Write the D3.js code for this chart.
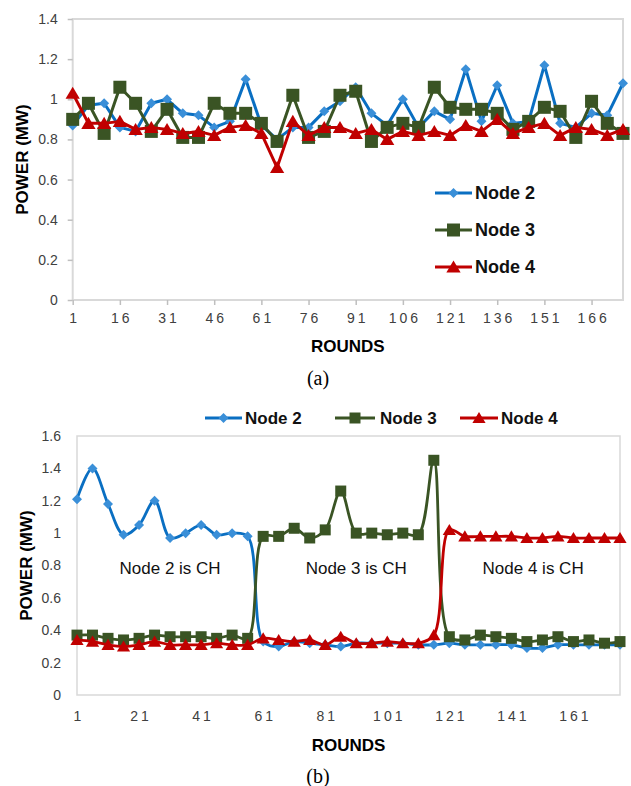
<!DOCTYPE html>
<html>
<head>
<meta charset="utf-8">
<script src="https://cdn.jsdelivr.net/npm/d3@7"></script>
<style>
  body { margin: 0; background: #fff; }
  svg { display: block; font-family: "Liberation Sans", Arial, sans-serif; }
</style>
</head>
<body>
<svg id="chart" width="631" height="786"></svg>
<script>
// rounds (x categories, every 5th round)
const rounds = [1, 6, 11, 16, 21, 26, 31, 36, 41, 46, 51, 56, 61, 66, 71, 76, 81, 86,
  91, 96, 101, 106, 111, 116, 121, 126, 131, 136, 141, 146, 151, 156, 161, 166, 171, 176];

// (a) power per round
const topNode2 = [0.87, 0.97, 0.98, 0.86, 0.84, 0.98, 1.0, 0.93, 0.92, 0.86, 0.89, 1.10,
  0.87, 0.80, 0.86, 0.86, 0.94, 0.99, 1.06, 0.93, 0.87, 1.0, 0.86, 0.94,
  0.90, 1.15, 0.89, 1.07, 0.88, 0.89, 1.17, 0.88, 0.86, 0.93, 0.92, 1.08];
const topNode3 = [0.90, 0.98, 0.83, 1.06, 0.98, 0.84, 0.95, 0.81, 0.81, 0.98, 0.93, 0.93,
  0.88, 0.79, 1.02, 0.81, 0.84, 1.02, 1.04, 0.79, 0.86, 0.88, 0.86, 1.06,
  0.96, 0.95, 0.95, 0.93, 0.85, 0.89, 0.96, 0.94, 0.81, 0.99, 0.88, 0.83];
const topNode4 = [1.03, 0.88, 0.88, 0.89, 0.85, 0.86, 0.85, 0.83, 0.84, 0.82, 0.86, 0.87,
  0.83, 0.66, 0.89, 0.82, 0.86, 0.86, 0.83, 0.85, 0.80, 0.84, 0.82, 0.84,
  0.82, 0.87, 0.84, 0.90, 0.83, 0.86, 0.88, 0.82, 0.86, 0.85, 0.82, 0.85];

// (b) power per round, cluster head changes
const botNode2 = [1.21, 1.40, 1.18, 0.99, 1.05, 1.20, 0.97, 1.00, 1.05, 0.99, 1.00, 0.98,
  0.33, 0.30, 0.33, 0.32, 0.31, 0.30, 0.32, 0.32, 0.32, 0.32, 0.31, 0.31,
  0.32, 0.31, 0.31, 0.31, 0.31, 0.29, 0.29, 0.31, 0.31, 0.31, 0.31, 0.31];
const botNode3 = [0.37, 0.37, 0.35, 0.34, 0.35, 0.37, 0.36, 0.36, 0.36, 0.35, 0.37, 0.35,
  0.98, 0.98, 1.03, 0.97, 1.02, 1.26, 1.00, 1.00, 0.99, 1.00, 0.99, 1.45,
  0.36, 0.34, 0.37, 0.36, 0.35, 0.33, 0.34, 0.36, 0.33, 0.34, 0.32, 0.33];
const botNode4 = [0.34, 0.33, 0.31, 0.30, 0.31, 0.33, 0.31, 0.31, 0.31, 0.32, 0.31, 0.31,
  0.35, 0.34, 0.33, 0.34, 0.31, 0.36, 0.32, 0.32, 0.33, 0.32, 0.32, 0.37,
  1.02, 0.98, 0.98, 0.98, 0.98, 0.97, 0.97, 0.98, 0.97, 0.97, 0.97, 0.97];

const seriesNames = ['Node 2', 'Node 3', 'Node 4'];
const xTicksTop = [1, 16, 31, 46, 61, 76, 91, 106, 121, 136, 151, 166];
const xTicksBot = [1, 21, 41, 61, 81, 101, 121, 141, 161];
const yTicksTop = [0, 0.2, 0.4, 0.6, 0.8, 1, 1.2, 1.4];
const yTicksBot = [0, 0.2, 0.4, 0.6, 0.8, 1, 1.2, 1.4, 1.6];
const chLabels = ['Node 2 is CH', 'Node 3 is CH', 'Node 4 is CH'];
const chRounds = [31, 91, 148];

const colors = { line: ['#0A6FC2', '#3A5424', '#C00000'], mark: ['#3A8FD8', '#3A5424', '#C00000'] };
const shapes = ['diamond', 'square', 'triangle'];

const svg = d3.select('#chart');

function markerPath(shape, s) { // s = half size
  if (shape === 'diamond') return `M0,${-s}L${s},0L0,${s}L${-s},0Z`;
  if (shape === 'square') return `M${-s},${-s}H${s}V${s}H${-s}Z`;
  return `M0,${-s}L${s * 1.1},${s * 0.85}L${-s * 1.1},${s * 0.85}Z`;
}
const markSize = { top: [5, 6.5, 6.5], bot: [5, 5.5, 6] };

function drawChart(opt) {
  const x = d3.scaleLinear().domain([1, 176]).range([opt.left, opt.right]);
  const y = d3.scaleLinear().domain([0, opt.ymax]).range([opt.bottom, opt.top]);
  const g = svg.append('g');

  g.append('rect')
    .attr('x', opt.left).attr('y', opt.top)
    .attr('width', opt.right - opt.left).attr('height', opt.bottom - opt.top)
    .attr('fill', 'none').attr('stroke', '#d9d9d9').attr('stroke-width', opt.borderW);

  const yAxis = d3.axisLeft(y).tickValues(opt.yTicks).tickFormat(d => String(d))
    .tickSize(opt.tick).tickPadding(opt.yPad);
  const gy = g.append('g').attr('transform', `translate(${opt.left},0)`).call(yAxis);
  const xAxis = d3.axisBottom(x).tickValues(opt.xTicks).tickSize(opt.tick).tickPadding(opt.xPad);
  const gx = g.append('g').attr('transform', `translate(0,${opt.bottom})`).call(xAxis);
  [gy, gx].forEach(a => {
    a.select('.domain').remove();
    a.selectAll('.tick line').attr('stroke', '#bfbfbf').attr('stroke-width', 1.5);
    a.selectAll('.tick text').attr('fill', '#404040').attr('font-size', 14)
      .attr('font-family', '"Liberation Sans", Arial, sans-serif');
  });
  gx.selectAll('.tick text').attr('letter-spacing', 3).attr('dx', 1.5);

  // axis titles
  g.append('text')
    .attr('transform', `translate(${opt.left - 51},${(opt.top + opt.bottom) / 2}) rotate(-90)`)
    .attr('text-anchor', 'middle').attr('dy', '0.35em')
    .attr('font-weight', 'bold').attr('font-size', 17).attr('fill', '#000')
    .text('POWER (MW)');
  g.append('text')
    .attr('x', (opt.left + opt.right) / 2).attr('y', opt.bottom + opt.titleGap)
    .attr('text-anchor', 'middle')
    .attr('font-weight', 'bold').attr('font-size', 17).attr('fill', '#000')
    .text('ROUNDS');
  g.append('text')
    .attr('x', 318).attr('y', opt.caption)
    .attr('text-anchor', 'middle')
    .attr('font-family', '"Liberation Serif", "Times New Roman", serif')
    .attr('font-size', 20).attr('fill', '#000')
    .text(opt.captionText);

  const line = d3.line()
    .x((d, i) => x(rounds[i]))
    .y(d => y(d))
    .curve(opt.smooth ? d3.curveCatmullRom.alpha(0.5) : d3.curveLinear);

  opt.series.forEach((data, k) => {
    g.append('path').datum(data)
      .attr('d', line)
      .attr('fill', 'none').attr('stroke', colors.line[k])
      .attr('stroke-width', opt.lineW).attr('stroke-linejoin', 'round');
    g.append('g').selectAll('path')
      .data(data).enter().append('path')
      .attr('transform', (d, i) => `translate(${x(rounds[i])},${y(d)})`)
      .attr('d', markerPath(shapes[k], opt.marks[k]))
      .attr('fill', colors.mark[k]);
  });
  return { x, y, g };
}

function legendItem(g, k, x0, x1, cy, tx, fs, s) {
  g.append('line').attr('x1', x0).attr('x2', x1).attr('y1', cy).attr('y2', cy)
    .attr('stroke', colors.line[k]).attr('stroke-width', 3);
  g.append('path').attr('transform', `translate(${(x0 + x1) / 2},${cy})`)
    .attr('d', markerPath(shapes[k], s)).attr('fill', colors.mark[k]);
  g.append('text').attr('x', tx).attr('y', cy).attr('dy', '0.36em')
    .attr('font-weight', 'bold').attr('font-size', fs).attr('fill', '#111')
    .text(seriesNames[k]);
}

// (a)
const a = drawChart({
  left: 72.7, right: 623, top: 19, bottom: 300, ymax: 1.4,
  yTicks: yTicksTop, xTicks: xTicksTop, tick: 5, yPad: 10, xPad: 8,
  borderW: 2, lineW: 3, marks: markSize.top, titleGap: 52,
  series: [topNode2, topNode3, topNode4], smooth: false,
  caption: 385, captionText: '(a)'
});
[193, 230, 267].forEach((cy, k) => legendItem(a.g, k, 435, 472, cy, 475, 18, markSize.top[k]));

// (b)
const b = drawChart({
  left: 77, right: 620, top: 436, bottom: 695, ymax: 1.6,
  yTicks: yTicksBot, xTicks: xTicksBot, tick: 0, yPad: 16, xPad: 16,
  borderW: 1.5, lineW: 2.8, marks: markSize.bot, titleGap: 56,
  series: [botNode2, botNode3, botNode4], smooth: true,
  caption: 783, captionText: '(b)'
});
[[205, 242, 245], [335, 375, 380], [460, 498, 501]].forEach((p, k) =>
  legendItem(b.g, k, p[0], p[1], 418, p[2], 17, markSize.bot[k]));

chLabels.forEach((t, i) => {
  b.g.append('text')
    .attr('x', b.x(chRounds[i])).attr('y', 568).attr('dy', '0.35em')
    .attr('text-anchor', 'middle').attr('font-size', 17).attr('fill', '#111')
    .text(t);
});
</script>
</body>
</html>
